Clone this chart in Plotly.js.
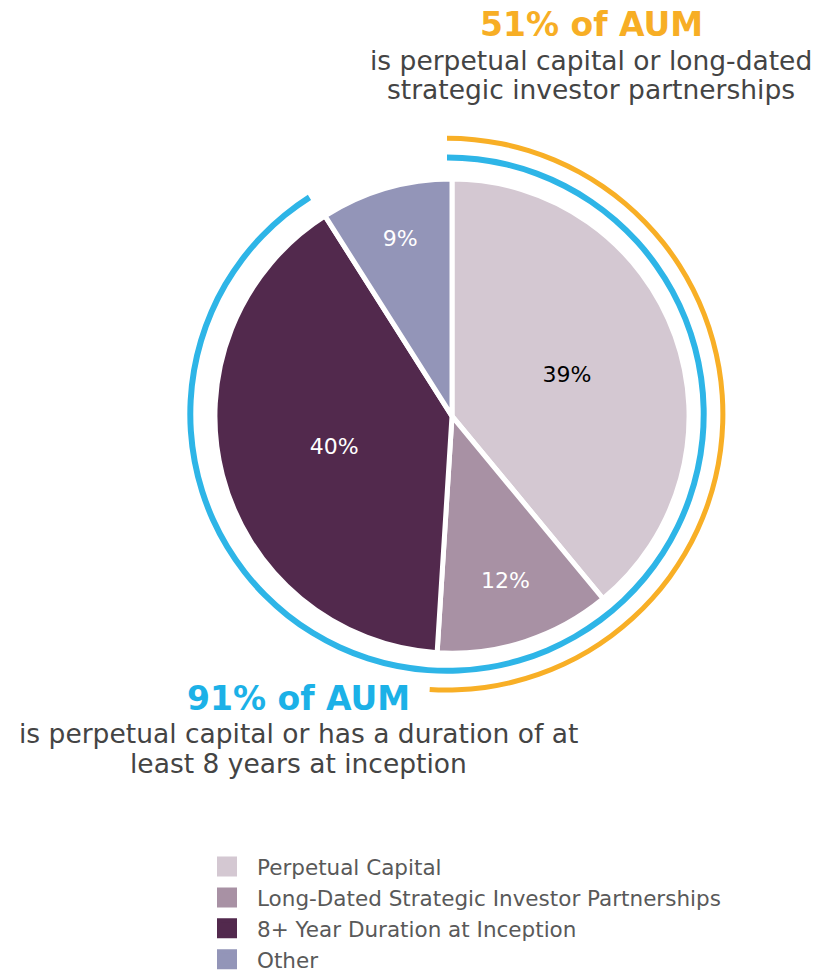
<!DOCTYPE html>
<html>
<head>
<meta charset="utf-8">
<script src="https://cdn.plot.ly/plotly-3.0.1.min.js"></script>
<style>
	html, body { margin: 0; padding: 0; background: #ffffff; }
	#chart { width: 817px; height: 980px; }
</style>
</head>
<body>
<div id="chart"></div>
<script>
// AUM breakdown
var sliceLabels = ['Perpetual Capital', 'Long-Dated Strategic Investor Partnerships', '8+ Year Duration at Inception', 'Other'];
var sliceValues = [39, 12, 40, 9];
var sliceColors = ['#D4C8D2', '#A891A4', '#52294D', '#9395B8'];
var sliceTextColors = ['#000000', '#ffffff', '#ffffff', '#ffffff'];

// outer rings : share of AUM covered, rest left empty
var orangeArc = [51, 49];
var blueArc = [91, 9];

var fontFamily = '"DejaVu Sans", Verdana, sans-serif';
var W = 817, H = 980;

// pie domain from a centre and radius in pixels
function dom(cx, cy, r) {
	return {
		x : [(cx - r) / W, (cx + r) / W],
		y : [(H - cy - r) / H, (H - cy + r) / H]
	};
}
function py(y) {
	return 1 - y / H;
}

var pie = {
	type : 'pie',
	labels : sliceLabels,
	values : sliceValues,
	sort : false,
	direction : 'clockwise',
	rotation : 0,
	domain : dom(452, 423, 241),
	marker : {
		colors : sliceColors,
		line : { color : '#ffffff', width : 5 }
	},
	texttemplate : '%{value}%',
	textposition : 'inside',
	insidetextorientation : 'horizontal',
	insidetextfont : { family : fontFamily, size : 22, color : sliceTextColors },
	hoverinfo : 'label+percent',
	showlegend : false
};

var blue = {
	type : 'pie',
	labels : ['91% of AUM', 'blue gap'],
	values : blueArc,
	sort : false,
	direction : 'clockwise',
	rotation : 0,
	hole : 0.977,
	domain : dom(447, 421, 264),
	marker : {
		colors : ['#2EB5E7', 'rgba(0,0,0,0)'],
		line : { width : 0 }
	},
	textinfo : 'none',
	hoverinfo : 'skip',
	showlegend : false
};

var orange = {
	type : 'pie',
	labels : ['51% of AUM', 'orange gap'],
	values : orangeArc,
	sort : false,
	direction : 'clockwise',
	rotation : 0,
	hole : 0.982,
	domain : dom(447, 421, 283),
	marker : {
		colors : ['#F8AF26', 'rgba(0,0,0,0)'],
		line : { width : 0 }
	},
	textinfo : 'none',
	hoverinfo : 'skip',
	showlegend : false
};

// legend entries (square swatches), one per slice
var legendTraces = sliceLabels.map(function(name, i) {
	return {
		type : 'scatter',
		mode : 'markers',
		x : [null],
		y : [null],
		name : name,
		showlegend : true,
		hoverinfo : 'skip',
		marker : {
			symbol : 'square',
			size : 16,
			color : sliceColors[i],
			line : { color : sliceColors[i], width : 4 }
		}
	};
});

var data = [orange, blue, pie].concat(legendTraces);

var layout = {
	width : W,
	height : H,
	margin : { l : 0, r : 0, t : 0, b : 0 },
	paper_bgcolor : '#ffffff',
	plot_bgcolor : 'rgba(0,0,0,0)',
	font : { family : fontFamily, color : '#444444' },
	xaxis : { visible : false, fixedrange : true },
	yaxis : { visible : false, fixedrange : true },
	showlegend : true,
	legend : {
		x : 197 / W,
		xanchor : 'left',
		y : py(860),
		yanchor : 'top',
		traceorder : 'normal',
		itemwidth : 50,
		font : { family : fontFamily, size : 21.5, color : '#595959' },
		bgcolor : 'rgba(0,0,0,0)'
	},
	annotations : [
		{
			text : '<b>51% of AUM</b>',
			xref : 'paper', yref : 'paper',
			x : 591 / W, y : py(25),
			xanchor : 'center', yanchor : 'middle',
			showarrow : false,
			font : { family : fontFamily, size : 33, color : '#F7AE25' }
		},
		{
			text : 'is perpetual capital or long-dated',
			xref : 'paper', yref : 'paper',
			x : 591 / W, y : py(61),
			xanchor : 'center', yanchor : 'middle',
			showarrow : false,
			font : { family : fontFamily, size : 26.5, color : '#444444' }
		},
		{
			text : 'strategic investor partnerships',
			xref : 'paper', yref : 'paper',
			x : 591 / W, y : py(91),
			xanchor : 'center', yanchor : 'middle',
			showarrow : false,
			font : { family : fontFamily, size : 26.5, color : '#444444' }
		},
		{
			text : '<b>91% of AUM</b>',
			xref : 'paper', yref : 'paper',
			x : 298 / W, y : py(710),
			xanchor : 'center', yanchor : 'middle',
			showarrow : false,
			font : { family : fontFamily, size : 33, color : '#1CB1E7' }
		},
		{
			text : 'is perpetual capital or has a duration of at',
			xref : 'paper', yref : 'paper',
			x : 298 / W, y : py(746),
			xanchor : 'center', yanchor : 'middle',
			showarrow : false,
			font : { family : fontFamily, size : 26.5, color : '#444444' }
		},
		{
			text : 'least 8 years at inception',
			xref : 'paper', yref : 'paper',
			x : 298 / W, y : py(776),
			xanchor : 'center', yanchor : 'middle',
			showarrow : false,
			font : { family : fontFamily, size : 26.5, color : '#444444' }
		}
	]
};

var config = {
	displayModeBar : false
};
Plotly.newPlot(document.getElementById('chart'), data, layout, config);
</script>
</body>
</html>
